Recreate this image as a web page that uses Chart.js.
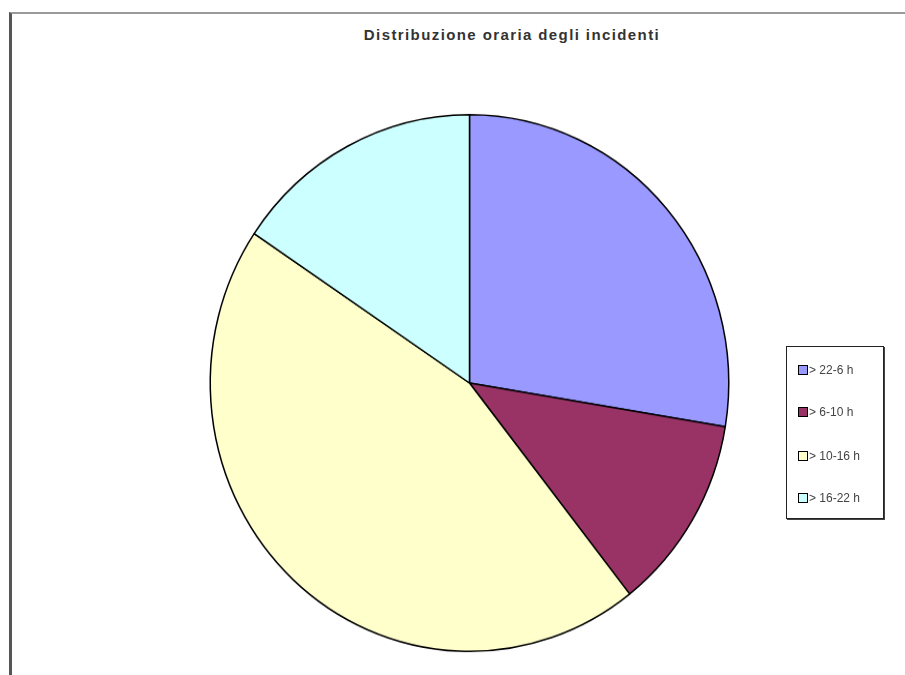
<!DOCTYPE html>
<html>
<head>
<meta charset="utf-8">
<script src="https://cdn.jsdelivr.net/npm/chart.js@4"></script>
<style>
  body { margin: 0; background: #fff; font-family: "Liberation Sans", Arial, sans-serif; }
  #wrap { position: relative; width: 905px; height: 675px; overflow: hidden; }
  #frame { position: absolute; left: 9px; top: 12px; width: 900px; height: 680px;
           border-top: 2px solid #9a9a9a; border-left: 3px solid #555; }
  #title { position: absolute; left: 312px; width: 400px; top: 26px; text-align: center;
           font-size: 15px; font-weight: bold; letter-spacing: 1.4px; color: #333; }
  #legend { position: absolute; left: 786px; top: 346px; width: 96px; height: 171px;
            border: 1px solid #222; box-shadow: 1px 1px 0 #444; font-size: 12px; color: #444; }
  .item { position: absolute; left: 11px; height: 14px; line-height: 14px; }
  .sw { display: inline-block; width: 8px; height: 8px; border: 1px solid #000; vertical-align: -1px; margin-right: 1px; }
  #c { position: absolute; left: 0; top: 0; transform-origin: 469px 383px; transform: scaleY(1.035); }
</style>
</head>
<body>
<div id="wrap">
  <div id="frame"></div>
  <div id="title">Distribuzione oraria degli incidenti</div>
  <canvas id="c" width="905" height="675"></canvas>
  <div id="legend"></div>
</div>
<script>
var categories = ["> 22-6 h", "> 6-10 h", "> 10-16 h", "> 16-22 h"];
var values = [27.6, 11.8, 45.0, 15.6];
var colors = ["#9999FF", "#993366", "#FFFFCC", "#CCFFFF"];
var legendTops = [16, 58, 102, 144];

function buildLegend() {

  var box = document.getElementById("legend");
  for (var i = 0; i < categories.length; i++) {

    var item = document.createElement("div");
    item.className = "item";
    item.style.top = legendTops[i] + "px";
    item.innerHTML = '<span class="sw" style="background:' + colors[i] + '"></span>' + categories[i];
    box.appendChild(item);
  }
}

function drawPie() {

  var ctx = document.getElementById("c").getContext("2d");
  var chart = new Chart(ctx, {

    type: "pie",

    data: {
      labels: categories,
      datasets: [{
        data: values,
        backgroundColor: colors,
        borderColor: "#000",
        borderWidth: 1.5
      }]
    },

    options: {
      responsive: false,
      animation: false,
      layout: { padding: { left: 209, right: 175, top: 123, bottom: 32 } },
      plugins: {
        legend: { display: false },
        tooltip: { enabled: false }
      }
    }
  });
}

buildLegend();
drawPie();
</script>
</body>
</html>
